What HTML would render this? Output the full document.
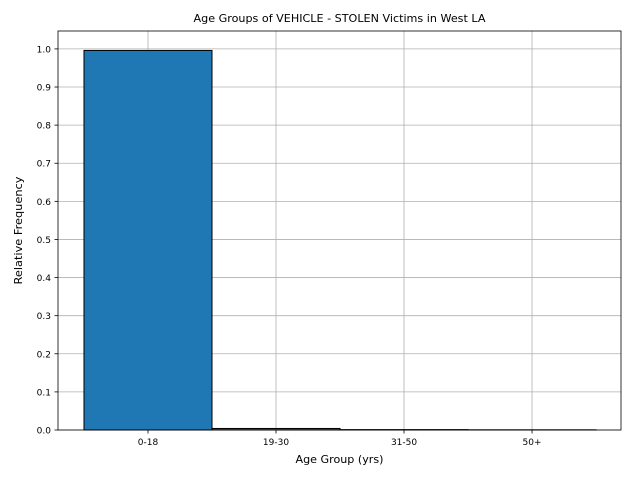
<!DOCTYPE html>
<html><head><meta charset="utf-8"><style>
body{margin:0;background:#fff;}
svg{display:block;font-family:"DejaVu Sans","Liberation Sans",sans-serif;}
</style></head><body>
<svg id="chart" width="640" height="480">
<rect width="640" height="480" fill="#fff"/>
<g id="grid"></g><g id="bars"></g><g id="axes"></g>
<text x="339.5" y="22" font-size="10.8" text-anchor="middle" textLength="292" lengthAdjust="spacingAndGlyphs">Age Groups of VEHICLE - STOLEN Victims in West LA</text>
<text x="339.5" y="463" font-size="10.8" text-anchor="middle" textLength="88" lengthAdjust="spacingAndGlyphs">Age Group (yrs)</text>
<text x="22" y="230.5" font-size="10.8" text-anchor="middle" textLength="108" lengthAdjust="spacingAndGlyphs" transform="rotate(-90 22 230.5)">Relative Frequency</text>
</svg>
<script>
const categories=["0-18","19-30","31-50","50+"];
const values=[0.996,0.004,0.001,0.0005];
const yTicks=[0,0.1,0.2,0.3,0.4,0.5,0.6,0.7,0.8,0.9,1.0];
const NS="http://www.w3.org/2000/svg";
const L=58,R=621,T=31,B=430;
const xMin=-0.703,xMax=3.695,yMax=1.047;
const xs=v=>L+(v-xMin)/(xMax-xMin)*(R-L);
const ys=v=>B-v/yMax*(B-T);
function mk(tag,attrs,parent){const e=document.createElementNS(NS,tag);for(const k in attrs)e.setAttribute(k,attrs[k]);document.getElementById(parent).appendChild(e);return e;}
yTicks.forEach(t=>{
 const g=mk('line',{x1:L,x2:R,y1:ys(t),y2:ys(t),stroke:'#b0b0b0','stroke-width':0.8},'grid');
 
 
 const tk=mk('line',{x1:L-3.5,x2:L,y1:ys(t),y2:ys(t),stroke:'#000','stroke-width':0.8},'axes');
 
 
 const tx=mk('text',{x:L-7,y:ys(t)+3.5,'font-size':9,'text-anchor':'end'},'axes');
 tx.textContent=t.toFixed(1);
 
 
});
categories.forEach((c,i)=>{
 const g=mk('line',{x1:xs(i),x2:xs(i),y1:T,y2:B,stroke:'#b0b0b0','stroke-width':0.8},'grid');
 
 
 const b=mk('rect',{x:xs(i-0.5),y:ys(values[i]),width:xs(i+0.5)-xs(i-0.5),height:B-ys(values[i]),fill:'#1f77b4',stroke:'#000','stroke-width':1},'bars');
 
 
 const tk=mk('line',{x1:xs(i),x2:xs(i),y1:B,y2:B+3.5,stroke:'#000','stroke-width':0.8},'axes');
 
 
 const tx=mk('text',{x:xs(i),y:B+15,'font-size':9,'text-anchor':'middle'},'axes');
 tx.textContent=c;
 
 
});
const fr=mk('rect',{x:L,y:T,width:R-L,height:B-T,fill:'none',stroke:'#000','stroke-width':0.8},'axes');


</script>
</body></html>
